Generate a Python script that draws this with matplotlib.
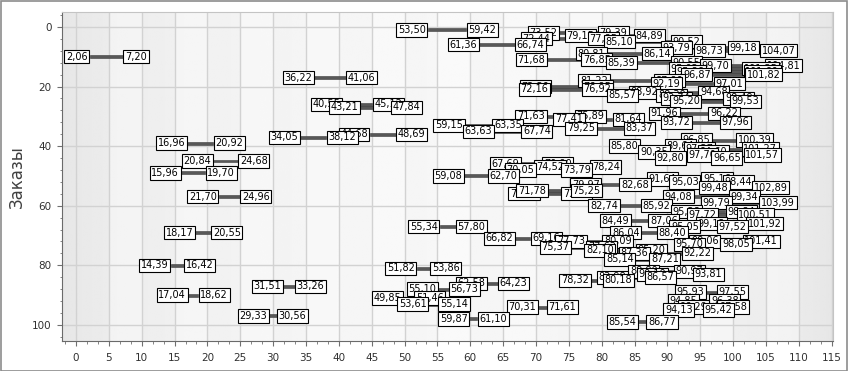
import numpy as np
import matplotlib.pyplot as plt
from matplotlib.patches import Rectangle
from matplotlib.ticker import MultipleLocator

# номер заказа, начало, конец
zakazy = [1, 2, 3, 4, 5, 6, 7, 8, 9, 10,
          11, 12, 13, 14, 15, 16, 17, 18, 19, 20,
          21, 22, 23, 24, 25, 26, 27, 29, 30, 31,
          32, 33, 34, 35, 36, 37, 38, 39, 40, 41,
          42, 43, 44, 45, 46, 47, 48, 49, 50, 51,
          52, 53, 54, 56, 55, 57, 57, 59, 60, 62,
          63, 65, 66, 67, 67, 69, 71, 72, 73, 72,
          74, 75, 76, 78, 80, 81, 82, 83, 84, 85,
          86, 87, 88, 89, 90, 91, 92, 93, 94, 94,
          95, 97, 98, 99, 69]
nachalo = [53.50, 73.52, 79.15, 72.44, 85.10, 61.36, 93.79, 98.73, 80.81, 2.06,
           71.68, 85.39, 99.70, 95.02, 95.86, 96.87, 36.22, 81.22, 92.19, 72.30,
           72.16, 88.92, 85.57, 93.74, 95.20, 40.55, 43.21, 91.96, 71.63, 77.41,
           93.72, 59.15, 79.25, 63.63, 44.68, 34.05, 96.85, 16.96, 85.80, 97.27,
           90.35, 97.70, 92.80, 20.84, 67.69, 74.52, 70.05, 15.96, 59.08, 91.64,
           95.03, 79.97, 99.48, 70.58, 71.78, 21.70, 94.08, 99.79, 82.74, 95.28,
           97.72, 84.49, 99.12, 95.05, 55.34, 86.04, 66.82, 98.06, 95.70, 77.73,
           75.37, 82.10, 87.36, 85.14, 14.39, 51.82, 88.80, 90.10, 83.98, 78.32,
           62.58, 31.51, 55.10, 95.93, 17.04, 49.85, 94.85, 53.61, 70.31, 96.29,
           94.13, 29.33, 59.87, 85.54, 18.17]
konec = [59.42, 79.39, 84.89, 77.85, 90.52, 66.74, 99.18, 104.07, 86.14, 7.20,
         76.85, 90.55, 104.81, 101.35, 101.60, 101.82, 41.06, 87.90, 97.01, 76.95,
         76.92, 94.68, 88.30, 98.49, 99.53, 45.12, 47.84, 96.22, 75.89, 81.64,
         97.96, 63.35, 83.37, 67.74, 48.69, 38.12, 100.39, 20.92, 89.64, 101.27,
         94.60, 101.57, 96.65, 24.68, 70.90, 78.24, 73.79, 19.70, 62.70, 95.16,
         98.44, 82.68, 102.89, 73.84, 75.25, 24.96, 99.34, 103.99, 85.92, 98.84,
         100.51, 87.06, 101.92, 97.52, 57.80, 88.40, 69.16, 101.41, 98.05, 80.09,
         77.63, 85.20, 92.22, 87.21, 16.42, 53.86, 90.97, 93.81, 86.57, 80.18,
         64.23, 33.26, 56.73, 97.55, 18.62, 51.46, 96.38, 55.14, 71.61, 97.58,
         95.42, 30.56, 61.10, 86.77, 20.55]


def fmt(v):
    return f"{v:.2f}".replace(".", ",")


fig = plt.figure(figsize=(8.48, 3.71), dpi=100)
ax = fig.add_axes([62 / 848, 1 - 341 / 371, (833 - 62) / 848, (341 - 12) / 371])

xmin, xmax = -2.13, 115.2
ymin, ymax = -5.0, 105.4

# фон с градиентом и полосами
xs = np.linspace(0, 1, 400)
grad = 0.90 + 0.065 * np.sin(xs * np.pi) ** 0.6
grad = np.tile(grad, (10, 1))
ax.imshow(grad, extent=(xmin, xmax, ymax, ymin), aspect="auto", cmap="gray",
          vmin=0, vmax=1, zorder=0, interpolation="bilinear")
for x0 in range(5, 115, 10):
    ax.axvspan(x0, x0 + 5, color="white", alpha=0.4, lw=0, zorder=0.5)

ax.set_xlim(xmin, xmax)
ax.set_ylim(ymax, ymin)

ax.xaxis.set_major_locator(MultipleLocator(5))
ax.xaxis.set_minor_locator(MultipleLocator(5 / 3))
ax.yaxis.set_major_locator(MultipleLocator(20))
ax.yaxis.set_minor_locator(MultipleLocator(4))
ax.grid(True, which="major", color="#d2d2d2", lw=1, zorder=1)
ax.set_axisbelow(True)

ax.tick_params(axis="both", which="major", length=3.6, color="#707070",
               labelsize=7.5, labelcolor="#303030")
ax.tick_params(axis="both", which="minor", length=1.8, color="#707070")
ax.tick_params(axis="x", pad=5)
ax.tick_params(axis="y", pad=4)
for side in ["left", "bottom"]:
    ax.spines[side].set_color("#6a6a6a")
for side in ["top", "right"]:
    ax.spines[side].set_color("#c4c4c4")

ax.set_ylabel("Заказы", fontsize=12, color="#404040", labelpad=4)

widths = [e - s for s, e in zip(nachalo, konec)]
ax.barh(zakazy, widths, left=nachalo, height=1.0, color="#585858",
        edgecolor="#3c3c3c", lw=0.4, zorder=3)

box = dict(boxstyle="square,pad=0.17", fc="white", ec="black", lw=0.8)
for y, s, e in zip(zakazy, nachalo, konec):
    ax.annotate(fmt(s), (s, y), xytext=(-1.3, 0), textcoords="offset points",
                ha="right", va="center", fontsize=7, bbox=box, zorder=4)
    ax.annotate(fmt(e), (e, y), xytext=(1.3, 0), textcoords="offset points",
                ha="left", va="center", fontsize=7, bbox=box, zorder=4)

fig.patches.append(Rectangle((0.0006, 0.0013), 0.9985, 0.9968, transform=fig.transFigure,
                             fill=False, ec="#8c8c8c", lw=1.2))

fig.savefig("out.png", dpi=100)
